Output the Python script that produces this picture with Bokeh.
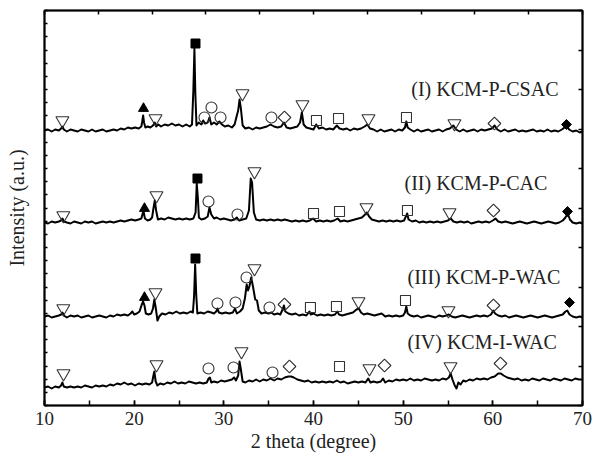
from bokeh.plotting import figure
from bokeh.models import Range1d, LinearAxis, SingleIntervalTicker, ColumnDataSource, CustomLabelingPolicy
from bokeh.core.properties import value
from bokeh.embed import file_html
from bokeh.resources import INLINE
import math

# ---------------- data ----------------
# (2theta, intensity above own baseline) for each pattern
curve_I = [(10.0,0),(10.4,1),(10.8,-1),(11.2,1),(11.6,0),(11.85,2),(12.0,4),(12.15,1),(12.5,-1),(12.9,1),(13.3,0),(13.7,-1),(14.1,1),(14.5,0),(14.9,-1),(15.3,1),(15.7,-1),(16.1,0),(16.5,1),(16.9,-1),(17.3,0),(17.7,1),(18.1,0),(18.5,2),(18.9,1),(19.3,3),(19.7,2),(20.1,3),(20.5,2),(20.8,4),(20.9,9),(21.0,15),(21.1,8),(21.25,3),(21.5,4),(21.8,3),(22.1,5),(22.3,8),(22.45,4),(22.7,6),(23.0,4),(23.4,6),(23.8,5),(24.2,7),(24.6,5),(25.0,6),(25.4,4),(25.8,6),(26.2,4),(26.45,6),(26.6,40),(26.72,82),(26.82,38),(26.95,5),(27.2,8),(27.5,6),(27.7,10),(27.9,7),(28.2,8),(28.4,13),(28.6,6),(28.9,8),(29.2,6),(29.5,9),(29.8,6),(30.1,4),(30.5,5),(30.9,3),(31.2,6),(31.45,15),(31.6,20),(31.75,31),(31.9,22),(32.1,5),(32.4,2),(32.8,3),(33.2,1),(33.6,3),(34.0,2),(34.4,3),(34.8,4),(35.2,6),(35.6,4),(36.0,3),(36.4,4),(36.7,8),(37.0,3),(37.4,2),(37.8,3),(38.2,4),(38.5,8),(38.7,18),(38.9,6),(39.2,3),(39.6,2),(40.0,1),(40.3,6),(40.6,2),(41.0,3),(41.4,1),(41.8,2),(42.2,1),(42.6,5),(42.9,2),(43.3,1),(43.7,2),(44.1,0),(44.5,2),(44.9,1),(45.3,2),(45.7,4),(46.0,6),(46.3,2),(46.7,1),(47.1,-1),(47.5,1),(47.9,-1),(48.3,0),(48.7,1),(49.1,-1),(49.5,1),(49.9,0),(50.2,3),(50.35,9),(50.5,3),(50.8,1),(51.2,-1),(51.6,1),(52.0,-1),(52.4,0),(52.8,1),(53.2,-1),(53.6,0),(54.0,1),(54.4,-1),(54.8,1),(55.2,2),(55.6,5),(55.9,1),(56.3,-1),(56.7,1),(57.1,-1),(57.5,0),(57.9,1),(58.3,-1),(58.7,1),(59.1,0),(59.5,1),(59.9,2),(60.2,5),(60.5,1),(60.9,-1),(61.3,1),(61.7,-1),(62.1,0),(62.5,1),(62.9,-1),(63.3,0),(63.7,-1),(64.1,0),(64.5,1),(64.9,-1),(65.3,0),(65.7,-1),(66.1,1),(66.5,-1),(66.9,0),(67.3,-1),(67.7,1),(68.0,3),(68.25,5),(68.5,1),(68.9,-1),(69.3,0),(69.7,-2),(70.0,-1)]

curve_II = [(10.0,0),(10.4,-1),(10.8,1),(11.2,0),(11.6,1),(11.85,2),(12.0,4),(12.15,1),(12.5,0),(12.9,-1),(13.3,1),(13.7,0),(14.1,-1),(14.5,1),(14.9,0),(15.3,1),(15.7,-1),(16.1,0),(16.5,1),(16.9,0),(17.3,1),(17.7,0),(18.1,1),(18.5,2),(18.9,1),(19.3,2),(19.7,3),(20.1,2),(20.5,3),(20.8,4),(20.95,9),(21.05,11),(21.2,4),(21.5,2),(21.8,3),(22.0,5),(22.15,14),(22.3,22),(22.45,12),(22.65,3),(23.0,4),(23.4,3),(23.8,5),(24.2,4),(24.6,3),(25.0,4),(25.4,3),(25.8,4),(26.2,3),(26.6,4),(26.85,10),(26.98,39),(27.1,25),(27.22,5),(27.5,3),(27.9,4),(28.2,6),(28.4,15),(28.6,8),(28.9,4),(29.2,5),(29.6,3),(30.0,4),(30.4,3),(30.8,2),(31.2,3),(31.45,5),(31.7,2),(32.1,3),(32.5,4),(32.8,12),(33.0,44),(33.15,40),(33.35,10),(33.6,3),(34.0,2),(34.4,3),(34.8,2),(35.2,3),(35.6,2),(36.0,3),(36.4,2),(36.8,3),(37.2,2),(37.6,1),(38.0,2),(38.4,1),(38.8,2),(39.2,1),(39.6,2),(39.95,4),(40.3,1),(40.7,2),(41.1,1),(41.5,2),(41.9,1),(42.3,2),(42.7,4),(43.0,1),(43.4,2),(43.8,1),(44.2,2),(44.6,3),(45.0,4),(45.4,5),(45.75,8),(45.95,10),(46.2,6),(46.5,3),(46.9,2),(47.3,1),(47.7,2),(48.1,1),(48.5,2),(48.9,1),(49.3,2),(49.7,1),(50.1,2),(50.3,6),(50.45,9),(50.6,3),(51.0,1),(51.4,2),(51.8,0),(52.2,1),(52.6,0),(53.0,1),(53.4,0),(53.8,1),(54.2,0),(54.6,1),(55.0,2),(55.3,4),(55.6,1),(56.0,0),(56.4,1),(56.8,0),(57.2,1),(57.6,-1),(58.0,0),(58.4,1),(58.8,0),(59.2,1),(59.6,0),(60.0,2),(60.3,4),(60.6,1),(61.0,0),(61.4,1),(61.8,0),(62.2,-1),(62.6,0),(63.0,1),(63.4,0),(63.8,-1),(64.2,0),(64.6,1),(65.0,0),(65.4,-1),(65.8,0),(66.2,1),(66.6,0),(67.0,-1),(67.4,0),(67.8,2),(68.1,5),(68.35,9),(68.6,3),(68.9,0),(69.3,-1),(69.7,0),(70.0,-1)]

curve_III = [(10.0,0),(10.4,1),(10.8,-1),(11.2,0),(11.6,1),(11.85,2),(12.0,4),(12.15,1),(12.5,-1),(12.9,1),(13.3,0),(13.7,1),(14.1,-1),(14.5,0),(14.9,1),(15.3,-1),(15.7,0),(16.1,1),(16.5,0),(16.9,-1),(17.3,1),(17.7,0),(18.1,2),(18.5,1),(18.9,2),(19.3,1),(19.6,3),(19.8,5),(20.0,2),(20.3,3),(20.6,5),(20.85,12),(21.0,15),(21.15,11),(21.3,3),(21.6,2),(21.9,3),(22.1,8),(22.25,17),(22.4,9),(22.6,-4),(22.8,0),(23.1,3),(23.5,2),(23.9,4),(24.3,3),(24.7,5),(25.1,3),(25.5,4),(25.9,3),(26.3,5),(26.55,4),(26.68,20),(26.8,52),(26.92,22),(27.05,3),(27.4,4),(27.8,3),(28.2,5),(28.6,4),(28.9,3),(29.15,5),(29.3,8),(29.45,4),(29.8,3),(30.2,4),(30.6,3),(31.0,4),(31.25,8),(31.45,3),(31.8,5),(32.1,8),(32.35,18),(32.55,32),(32.7,26),(32.85,30),(33.05,39),(33.25,30),(33.5,17),(33.7,16),(33.9,6),(34.2,3),(34.6,4),(35.0,3),(35.3,4),(35.6,2),(36.0,3),(36.3,2),(36.55,7),(36.7,11),(36.85,5),(37.2,3),(37.6,2),(38.0,3),(38.4,1),(38.8,2),(39.2,1),(39.55,5),(39.7,2),(40.0,3),(40.4,1),(40.8,2),(41.2,1),(41.6,2),(42.0,1),(42.4,2),(42.65,5),(42.85,2),(43.2,1),(43.6,2),(44.0,3),(44.4,4),(44.8,7),(45.05,8),(45.3,4),(45.6,2),(46.0,3),(46.4,2),(46.8,1),(47.2,2),(47.6,3),(48.0,0),(48.4,1),(48.8,0),(49.2,1),(49.6,0),(50.0,1),(50.2,4),(50.35,10),(50.5,3),(50.8,1),(51.2,0),(51.6,1),(52.0,-1),(52.4,0),(52.8,1),(53.2,0),(53.6,-1),(54.0,1),(54.4,0),(54.8,1),(55.1,2),(55.4,0),(55.8,-1),(56.2,0),(56.6,1),(57.0,0),(57.4,-1),(57.8,0),(58.2,1),(58.6,0),(59.0,1),(59.4,0),(59.8,2),(60.05,6),(60.25,3),(60.6,1),(61.0,0),(61.4,1),(61.8,-1),(62.2,0),(62.6,1),(63.0,0),(63.4,-1),(63.8,0),(64.2,1),(64.6,0),(65.0,-1),(65.4,0),(65.8,1),(66.2,0),(66.6,-1),(67.0,0),(67.4,1),(67.8,2),(68.1,5),(68.3,6),(68.55,2),(68.9,0),(69.3,-1),(69.7,0),(70.0,-1)]

curve_IV = [(10.0,0),(10.4,1),(10.8,-1),(11.2,1),(11.6,0),(11.85,2),(12.0,5),(12.15,1),(12.5,0),(12.9,1),(13.3,0),(13.7,1),(14.1,0),(14.5,2),(14.9,1),(15.3,0),(15.7,2),(16.1,1),(16.5,2),(16.9,1),(17.3,3),(17.7,2),(18.1,4),(18.5,3),(18.9,5),(19.3,3),(19.7,4),(20.1,2),(20.5,4),(20.9,3),(21.3,4),(21.7,3),(22.0,5),(22.15,12),(22.25,16),(22.4,6),(22.6,2),(22.9,4),(23.3,3),(23.7,5),(24.1,4),(24.5,6),(24.9,4),(25.3,5),(25.7,4),(26.1,6),(26.5,5),(26.9,4),(27.3,5),(27.7,4),(28.1,5),(28.3,9),(28.45,10),(28.6,5),(28.9,6),(29.3,5),(29.7,7),(30.1,6),(30.5,7),(30.9,8),(31.15,10),(31.35,7),(31.6,12),(31.75,26),(31.9,18),(32.1,6),(32.4,5),(32.8,7),(33.2,6),(33.6,8),(34.0,6),(34.4,8),(34.8,7),(35.2,9),(35.6,7),(36.0,9),(36.4,8),(36.8,10),(37.2,11),(37.5,11),(37.8,10),(38.2,8),(38.6,7),(39.0,6),(39.4,7),(39.8,5),(40.2,6),(40.6,5),(41.0,6),(41.4,5),(41.8,6),(42.2,5),(42.6,7),(43.0,5),(43.4,6),(43.8,4),(44.2,5),(44.6,6),(45.0,5),(45.4,6),(45.8,5),(46.1,9),(46.35,5),(46.7,6),(47.1,5),(47.5,6),(47.75,9),(48.0,5),(48.4,7),(48.8,6),(49.2,8),(49.6,7),(50.0,8),(50.4,7),(50.8,9),(51.2,7),(51.6,8),(52.0,7),(52.4,9),(52.8,8),(53.2,7),(53.6,8),(54.0,7),(54.4,9),(54.8,8),(55.1,10),(55.3,14),(55.5,8),(55.75,2),(55.95,-1),(56.15,5),(56.4,3),(56.7,7),(57.0,6),(57.4,8),(57.8,7),(58.2,9),(58.6,8),(59.0,9),(59.4,8),(59.8,10),(60.2,11),(60.6,14),(60.9,14),(61.2,12),(61.6,10),(62.0,9),(62.4,8),(62.8,9),(63.2,7),(63.6,8),(64.0,7),(64.4,9),(64.8,8),(65.2,7),(65.6,9),(66.0,8),(66.4,7),(66.8,9),(67.2,8),(67.6,7),(68.0,9),(68.4,8),(68.8,7),(69.2,9),(69.6,8),(70.0,8)]

curves = [curve_I, curve_II, curve_III, curve_IV]
offsets = [275, 183, 89, 18]

label_text = ["(I) KCM-P-CSAC", "(II) KCM-P-CAC", "(III) KCM-P-WAC", "(IV) KCM-I-WAC"]
label_x = [50.9, 50.15, 50.48, 50.48]
label_y = [317, 223, 129, 64]

# phase markers (2theta, a.u.)
tri_dn_x = [12.0, 22.38, 32.08, 38.77, 46.13, 55.72, 12.1, 22.49, 33.42, 45.91, 55.17,
            12.1, 22.38, 33.42, 45.02, 55.05, 12.12, 22.49, 31.97, 46.24, 55.28]
tri_dn_y = [285, 287, 312, 301, 287, 282, 190, 210, 234, 198, 193,
            97, 113, 137, 104, 95, 32, 41, 54, 37, 39]
circ_x = [27.84, 28.62, 29.63, 35.31, 28.29, 31.52, 29.29, 31.3, 32.53, 35.09, 28.29, 31.08, 35.43]
circ_y = [288, 298, 288, 288, 204, 191, 102, 103, 128, 98, 37, 38, 33]
sq_open_x = [40.33, 42.79, 50.37, 40.0, 42.9, 50.48, 39.66, 42.56, 50.26, 42.9]
sq_open_y = [285, 287, 288, 192, 194, 195, 98, 99, 105, 39]
dia_open_x = [36.76, 60.18, 60.07, 36.76, 60.07, 37.32, 47.92, 60.85]
dia_open_y = [288, 282, 195, 101, 100, 39, 40, 42]
sq_fill_x = [26.84, 27.06, 26.84]
sq_fill_y = [362, 227, 147]
tri_up_x = [21.04, 21.15, 21.15]
tri_up_y = [297, 197, 108]
dia_fill_x = [68.21, 68.33, 68.55]
dia_fill_y = [281, 194, 103]

x_ticks_step = 10

# ---------------- figure ----------------
FONT = "Liberation Serif"
p = figure(width=592, height=459, x_range=Range1d(10, 70), y_range=Range1d(0, 395),
           output_backend="svg", toolbar_location=None, y_axis_location=None,
           min_border_left=44, min_border_right=10, min_border_top=10, min_border_bottom=54)
p.background_fill_color = "white"
p.border_fill_color = "white"
p.outline_line_color = "black"
p.outline_line_width = 1.5
p.xgrid.visible = False
p.ygrid.visible = False

xa = p.xaxis[0]
xa.ticker = SingleIntervalTicker(interval=x_ticks_step, num_minor_ticks=2)
xa.major_tick_in = 5
xa.major_tick_out = 0
xa.minor_tick_in = 5
xa.minor_tick_out = 0
xa.major_tick_line_width = 1.5
xa.minor_tick_line_width = 1.5
xa.axis_line_width = 2
xa.major_label_standoff = 6
xa.major_label_text_font = FONT
xa.major_label_text_font_size = "19px"
xa.major_label_text_color = "#222222"
xa.axis_label = "2 theta (degree)"
xa.axis_label_text_font = FONT
xa.axis_label_text_font_size = "20px"
xa.axis_label_text_font_style = "normal"
xa.axis_label_text_color = "#222222"
xa.axis_label_standoff = 2

p.extra_y_ranges = {"left": Range1d(0, 30), "right": Range1d(0, 10)}
p.extra_x_ranges = {"top": Range1d(0, 10)}

def frame_axis(ax):
    ax.major_tick_out = 0
    ax.minor_tick_line_color = None
    ax.major_label_policy = CustomLabelingPolicy(code="for (const i of indices) { if (i < 0) yield i }")
    ax.major_label_text_font_size = "1px"
    ax.major_label_standoff = 0
    ax.axis_line_width = 2
    ax.major_tick_line_width = 1.5
    return ax

la = frame_axis(LinearAxis(y_range_name="left", ticker=SingleIntervalTicker(interval=1, num_minor_ticks=0)))
la.major_tick_in = 3
la.axis_label = "Intensity (a.u.)"
la.axis_label_text_font = FONT
la.axis_label_text_font_size = "20px"
la.axis_label_text_font_style = "normal"
la.axis_label_text_color = "#222222"
la.axis_label_standoff = 12
p.add_layout(la, "left")

ra = frame_axis(LinearAxis(y_range_name="right", ticker=SingleIntervalTicker(interval=1, num_minor_ticks=0)))
ra.major_tick_in = 4
p.add_layout(ra, "right")

ta = frame_axis(LinearAxis(x_range_name="top", ticker=SingleIntervalTicker(interval=1, num_minor_ticks=0)))
ta.major_tick_in = 4
p.add_layout(ta, "above")

# curves
for c, off in zip(curves, offsets):
    xs = [t for t, _ in c]
    ys = [h + off for _, h in c]
    p.line(xs, ys, line_color="black", line_width=2, line_join="round")

# markers
mk = dict(line_color="#333333", line_width=1.1, fill_color=None)
p.scatter(tri_dn_x, tri_dn_y, marker="inverted_triangle", size=13, **mk)
p.scatter(circ_x, circ_y, marker="circle", size=11, **mk)
p.scatter(sq_open_x, sq_open_y, marker="square", size=10, **mk)
p.scatter(dia_open_x, dia_open_y, marker="square", size=9, angle=math.pi / 4, **mk)
p.scatter(sq_fill_x, sq_fill_y, marker="square", size=9, line_color="black", fill_color="black")
p.scatter(tri_up_x, tri_up_y, marker="triangle", size=10, line_color="black", fill_color="black")
p.scatter(dia_fill_x, dia_fill_y, marker="square", size=7, angle=math.pi / 4,
          line_color="black", fill_color="black")

src = ColumnDataSource(dict(x=label_x, y=label_y, t=label_text))
p.text(x="x", y="y", text="t", source=src, text_font=value(FONT), text_font_size=value("20px"),
       text_baseline="middle", text_align="left", text_color="#222222")

open("out.html", "w").write(file_html(p, INLINE))
